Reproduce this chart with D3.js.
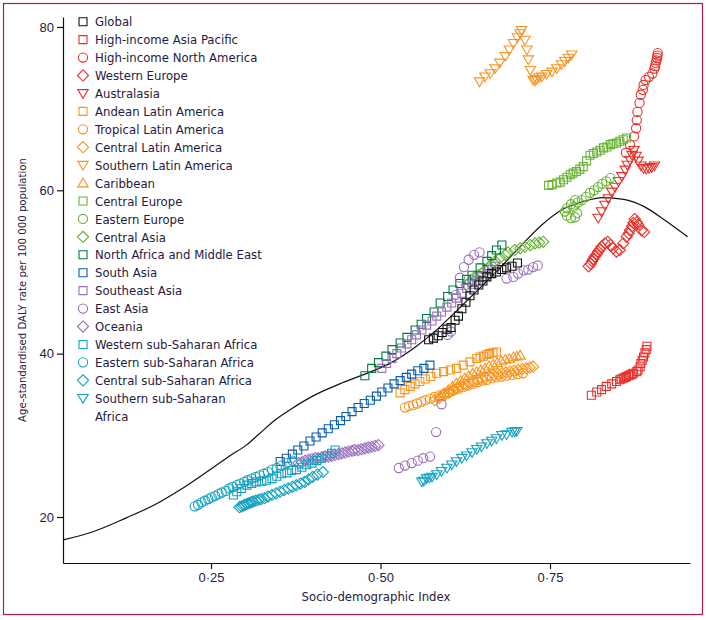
<!DOCTYPE html>
<html><head><meta charset="utf-8">
<script src="https://cdn.jsdelivr.net/npm/d3@7"></script>
<style>
body{margin:0;background:#fff;}
svg{display:block;font-family:'Liberation Sans Narrow','DejaVu Sans Condensed','Roboto Condensed',Roboto,sans-serif;}
</style></head><body>
<svg id="c" width="706" height="620"></svg>
<script>
// ---------- DATA (SDI, age-standardised DALY rate per 100 000) ----------
const xTicks = [0.25, 0.50, 0.75];
const yTicks = [20, 40, 60, 80];

const curveSdi  = [0.032,0.076,0.125,0.167,0.204,0.247,0.278,0.302,0.320,0.345,0.366,0.400,0.443,0.486,0.516,0.553,0.584,0.614,0.645,0.675,0.706,0.737,0.767,0.798,0.828,0.859,0.889,0.920,0.953];
const curveDaly = [17.2,18.2,19.9,21.5,23.3,25.7,27.5,28.8,30.1,31.9,33.1,34.8,36.4,37.8,38.9,40.9,43.0,45.4,47.9,50.4,53.1,55.7,57.6,58.6,59.1,58.9,58.0,56.3,54.3];

const globalPts = [[0.571,41.7],[0.578,41.9],[0.585,42.2],[0.591,42.6],[0.598,43.0],[0.604,43.2],[0.610,44.1],[0.615,44.6],[0.620,45.5],[0.626,46.3],[0.632,47.1],[0.638,47.8],[0.645,48.4],[0.651,48.9],[0.657,49.4],[0.664,49.8],[0.671,50.0],[0.679,50.3],[0.686,50.5],[0.694,50.7],[0.702,51.1]];
const hiAsiaPacific = [[0.811,34.9],[0.819,35.3],[0.826,35.6],[0.833,36.0],[0.841,36.3],[0.848,36.6],[0.853,36.8],[0.855,36.9],[0.858,37.0],[0.861,37.1],[0.863,37.2],[0.866,37.3],[0.868,37.4],[0.871,37.5],[0.873,37.6],[0.878,37.8],[0.880,38.0],[0.883,38.4],[0.884,38.8],[0.886,39.2],[0.888,39.6],[0.890,40.1],[0.892,40.5],[0.893,40.9]];
const hiNorthAmerica = [[0.862,64.6],[0.868,65.6],[0.874,66.6],[0.877,67.6],[0.878,68.6],[0.879,69.6],[0.882,70.7],[0.884,71.7],[0.887,72.3],[0.888,72.9],[0.891,73.5],[0.896,73.9],[0.901,74.3],[0.904,74.9],[0.905,75.2],[0.906,75.6],[0.907,75.9],[0.908,76.2],[0.9085,76.5],[0.909,76.8]];
const westernEurope = [[0.807,50.7],[0.810,51.0],[0.812,51.3],[0.814,51.6],[0.816,51.9],[0.819,52.2],[0.821,52.5],[0.824,52.8],[0.826,53.1],[0.831,53.5],[0.835,53.7],[0.839,53.3],[0.843,52.9],[0.848,52.5],[0.853,52.7],[0.858,53.5],[0.863,54.3],[0.866,54.7],[0.868,55.1],[0.871,55.6],[0.873,56.0],[0.875,56.5],[0.878,56.1],[0.880,55.8],[0.885,55.1],[0.889,54.9]];
const australasia = [[0.821,56.6],[0.826,57.4],[0.831,58.2],[0.836,59.0],[0.841,59.8],[0.846,60.4],[0.851,61.1],[0.856,61.7],[0.861,62.5],[0.864,63.1],[0.868,63.7],[0.871,64.3],[0.874,64.9],[0.877,64.2],[0.880,63.6],[0.884,63.0],[0.888,62.7],[0.892,62.6],[0.896,62.7],[0.900,62.8],[0.904,63.0]];
const andeanLA = [[0.529,35.2],[0.536,35.6],[0.544,36.0],[0.551,36.3],[0.558,36.6],[0.566,36.9],[0.574,37.2],[0.583,37.6],[0.593,37.8],[0.603,38.0],[0.612,38.2],[0.622,38.6],[0.632,39.0],[0.642,39.4],[0.647,39.6],[0.652,39.7],[0.657,39.9],[0.661,40.0],[0.666,40.1],[0.671,40.2]];
const tropicalLA = [[0.536,33.4],[0.542,33.6],[0.548,33.7],[0.554,33.9],[0.560,34.1],[0.566,34.3],[0.573,34.5],[0.580,34.7],[0.587,34.9],[0.594,35.1],[0.601,35.3],[0.608,35.5],[0.615,35.7],[0.622,35.9],[0.629,36.1],[0.636,36.3],[0.643,36.5],[0.650,36.7],[0.657,36.8],[0.664,37.0],[0.671,37.1],[0.678,37.2],[0.686,37.3],[0.694,37.4],[0.702,37.5],[0.710,37.6]];
const centralLA = [[0.580,34.3],[0.587,34.6],[0.594,34.9],[0.601,35.2],[0.607,35.5],[0.613,35.8],[0.619,36.0],[0.625,36.2],[0.631,36.4],[0.637,36.6],[0.643,36.8],[0.649,37.0],[0.655,37.1],[0.661,37.3],[0.667,37.4],[0.673,37.5],[0.679,37.6],[0.685,37.7],[0.691,37.8],[0.697,37.9],[0.703,38.0],[0.709,38.1],[0.715,38.2],[0.720,38.3],[0.725,38.4]];
const southernLA = [[0.646,73.3],[0.654,73.9],[0.662,74.3],[0.669,74.9],[0.676,75.6],[0.684,76.4],[0.690,77.2],[0.696,78.0],[0.702,78.7],[0.706,79.2],[0.708,79.6],[0.713,78.4],[0.716,77.2],[0.718,76.0],[0.721,74.7],[0.725,73.5],[0.728,73.4],[0.730,73.6],[0.734,73.8],[0.738,73.9],[0.745,74.2],[0.753,74.5],[0.760,74.9],[0.767,75.4],[0.772,75.8],[0.777,76.2],[0.782,76.6]];
const caribbean = [[0.588,34.8],[0.594,35.2],[0.600,35.6],[0.606,36.0],[0.612,36.4],[0.618,36.7],[0.624,37.0],[0.630,37.3],[0.636,37.6],[0.642,37.8],[0.648,38.0],[0.654,38.2],[0.660,38.5],[0.666,38.7],[0.672,38.9],[0.678,39.1],[0.684,39.3],[0.690,39.4],[0.696,39.6],[0.701,39.7],[0.706,39.8]];
const centralEurope = [[0.748,60.6],[0.753,60.7],[0.760,60.9],[0.765,61.0],[0.770,61.3],[0.775,61.6],[0.780,61.9],[0.784,62.1],[0.789,62.3],[0.794,62.6],[0.799,62.9],[0.804,63.6],[0.809,64.3],[0.814,64.5],[0.819,64.7],[0.824,64.9],[0.829,65.2],[0.834,65.3],[0.839,65.6],[0.843,65.7],[0.848,65.8],[0.853,66.0],[0.858,66.2],[0.863,66.4]];
const easternEurope = [[0.787,58.8],[0.781,58.3],[0.775,57.8],[0.772,57.4],[0.775,56.9],[0.781,56.6],[0.787,56.7],[0.790,57.2],[0.785,58.0],[0.791,58.5],[0.797,58.8],[0.803,59.2],[0.809,59.7],[0.815,60.0],[0.821,60.4],[0.827,60.8],[0.833,61.1],[0.839,61.5]];
const centralAsia = [[0.627,48.4],[0.632,48.8],[0.639,49.4],[0.644,49.6],[0.649,49.8],[0.654,50.2],[0.659,50.5],[0.663,50.9],[0.669,51.3],[0.676,51.7],[0.684,52.1],[0.688,52.4],[0.698,52.7],[0.706,52.9],[0.713,53.1],[0.721,53.3],[0.728,53.5],[0.734,53.6],[0.740,53.7]];
const northAfricaME = [[0.477,37.3],[0.487,38.2],[0.497,38.9],[0.508,39.7],[0.517,40.5],[0.529,41.3],[0.539,42.0],[0.551,42.9],[0.560,43.6],[0.568,44.3],[0.579,45.1],[0.588,46.2],[0.599,47.0],[0.607,47.8],[0.617,48.6],[0.627,49.1],[0.635,49.6],[0.647,50.5],[0.657,51.3],[0.664,52.0],[0.671,52.7],[0.679,53.3]];
const southAsia = [[0.352,26.8],[0.361,27.2],[0.370,27.7],[0.378,28.2],[0.387,28.7],[0.396,29.3],[0.405,29.8],[0.414,30.3],[0.423,30.8],[0.432,31.3],[0.441,31.8],[0.449,32.3],[0.458,32.9],[0.467,33.4],[0.476,33.9],[0.485,34.3],[0.494,34.8],[0.502,35.3],[0.511,35.8],[0.520,36.3],[0.529,36.7],[0.538,37.1],[0.546,37.5],[0.555,37.9],[0.564,38.2],[0.573,38.6]];
const southeastAsia = [[0.502,38.2],[0.509,38.8],[0.517,39.4],[0.524,40.0],[0.531,40.7],[0.539,41.2],[0.546,41.7],[0.553,42.3],[0.561,42.9],[0.568,43.5],[0.576,44.0],[0.583,44.6],[0.590,45.1],[0.598,45.7],[0.605,46.2],[0.612,46.8],[0.620,47.4],[0.627,48.0],[0.635,48.5],[0.642,49.0],[0.649,49.4],[0.657,49.8],[0.664,50.3],[0.669,50.7]];
const eastAsia = [[0.527,26.0],[0.536,26.3],[0.546,26.6],[0.555,26.9],[0.563,27.2],[0.573,27.4],[0.582,30.4],[0.590,33.8],[0.599,42.3],[0.604,42.7],[0.611,47.2],[0.617,49.3],[0.623,50.6],[0.630,51.5],[0.638,52.1],[0.646,52.4],[0.660,50.2],[0.686,49.2],[0.696,49.4],[0.703,49.8],[0.711,50.2],[0.718,50.3],[0.725,50.6],[0.732,50.8]];
const oceania = [[0.379,26.6],[0.384,26.7],[0.389,26.9],[0.394,27.0],[0.399,27.1],[0.404,27.2],[0.408,27.2],[0.413,27.3],[0.418,27.4],[0.423,27.4],[0.428,27.5],[0.433,27.6],[0.438,27.7],[0.443,27.8],[0.448,27.9],[0.453,28.0],[0.458,28.1],[0.462,28.2],[0.467,28.2],[0.472,28.3],[0.477,28.4],[0.482,28.5],[0.487,28.6],[0.492,28.7],[0.497,28.8]];
const westernSSA = [[0.283,22.7],[0.288,23.1],[0.295,23.5],[0.303,23.9],[0.310,24.1],[0.317,24.3],[0.325,24.4],[0.332,24.5],[0.340,24.7],[0.347,25.0],[0.354,25.3],[0.362,25.4],[0.369,25.7],[0.376,25.8],[0.384,26.1],[0.391,26.4],[0.399,26.6],[0.406,26.9],[0.413,27.2],[0.421,27.5],[0.428,27.8],[0.433,28.2]];
const easternSSA = [[0.226,21.3],[0.231,21.5],[0.236,21.8],[0.241,22.0],[0.246,22.2],[0.251,22.4],[0.256,22.6],[0.261,22.8],[0.266,23.0],[0.272,23.2],[0.277,23.5],[0.282,23.7],[0.288,23.9],[0.293,24.1],[0.299,24.3],[0.304,24.5],[0.310,24.7],[0.316,24.9],[0.322,25.1],[0.328,25.3],[0.334,25.5],[0.340,25.8],[0.347,26.0],[0.354,26.3],[0.362,26.6],[0.370,26.9]];
const centralSSA = [[0.292,21.2],[0.295,21.3],[0.298,21.4],[0.300,21.5],[0.303,21.6],[0.306,21.7],[0.309,21.8],[0.312,21.9],[0.316,22.0],[0.320,22.1],[0.324,22.2],[0.329,22.3],[0.334,22.5],[0.340,22.7],[0.346,22.9],[0.352,23.1],[0.358,23.3],[0.364,23.5],[0.370,23.7],[0.376,23.9],[0.382,24.1],[0.388,24.3],[0.394,24.6],[0.400,24.9],[0.407,25.2],[0.415,25.5]];
const southernSSA = [[0.561,24.3],[0.564,24.4],[0.568,24.7],[0.572,24.8],[0.576,24.9],[0.583,25.2],[0.590,25.6],[0.598,26.0],[0.605,26.4],[0.612,26.8],[0.620,27.2],[0.627,27.5],[0.635,27.9],[0.642,28.3],[0.649,28.6],[0.657,29.0],[0.664,29.3],[0.671,29.6],[0.679,30.0],[0.686,30.1],[0.694,30.4],[0.698,30.45],[0.701,30.5]];

const regionNames = ["Global","High-income Asia Pacific","High-income North America","Western Europe","Australasia","Andean Latin America","Tropical Latin America","Central Latin America","Southern Latin America","Caribbean","Central Europe","Eastern Europe","Central Asia","North Africa and Middle East","South Asia","Southeast Asia","East Asia","Oceania","Western sub-Saharan Africa","Eastern sub-Saharan Africa","Central sub-Saharan Africa","Southern sub-Saharan Africa"];
const regionData = [globalPts,hiAsiaPacific,hiNorthAmerica,westernEurope,australasia,andeanLA,tropicalLA,centralLA,southernLA,caribbean,centralEurope,easternEurope,centralAsia,northAfricaME,southAsia,southeastAsia,eastAsia,oceania,westernSSA,easternSSA,centralSSA,southernSSA];

// ---------- STYLE ----------
const C = {black:"#111", red:"#e8322b", orange:"#f7941d", green:"#67b232", dgreen:"#007a3d", blue:"#0b5cad", purple:"#9a6fbe", cyan:"#13a0c2"};
const regionColor = [C.black,C.red,C.red,C.red,C.red,C.orange,C.orange,C.orange,C.orange,C.orange,C.green,C.green,C.green,C.dgreen,C.blue,C.purple,C.purple,C.purple,C.cyan,C.cyan,C.cyan,C.cyan];
const regionShape = ["square","square","circle","diamond","tdown","square","circle","diamond","tdown","tup","square","circle","diamond","square","square","square","circle","diamond","square","circle","diamond","tdown"];
const shapePath = {
  square:"M-4,-4H4V4H-4Z",
  circle:"M4.6,0A4.6,4.6 0 1,1 -4.6,0A4.6,4.6 0 1,1 4.6,0Z",
  diamond:"M0,-5.6L5.6,0L0,5.6L-5.6,0Z",
  tdown:"M-5.2,-3.8L5.2,-3.8L0,4.9Z",
  tup:"M0,-4.9L5.2,3.8L-5.2,3.8Z"
};
const textColor = "#1f2040";

// ---------- CHART ----------
const svg = d3.select("#c");
const x = d3.scaleLinear().domain([0.0317, 0.9565]).range([63, 690]);
const y = d3.scaleLinear().domain([14.37, 81.22]).range([563, 17]);

svg.append("rect").attr("x",3.5).attr("y",3.5).attr("width",699).attr("height",611)
  .attr("fill","none").attr("stroke","#b01c50").attr("stroke-width",1.2);

const fmt = d => d3.format(".2f")(d).replace(".", "\u00b7");
const gx = svg.append("g").attr("transform","translate(0,563)")
  .call(d3.axisBottom(x).tickValues(xTicks).tickFormat(fmt).tickSize(6).tickSizeOuter(0).tickPadding(4));
const gy = svg.append("g").attr("transform","translate(63,0)")
  .call(d3.axisLeft(y).tickValues(yTicks).tickSize(6).tickSizeOuter(0).tickPadding(3));
[gx,gy].forEach(g=>{
  g.select(".domain").attr("stroke","#111").attr("stroke-width",1.2);
  g.selectAll(".tick line").attr("stroke","#111").attr("stroke-width",1.2);
  g.selectAll(".tick text").attr("fill",textColor).style("font-size","13px").style("font-family","inherit");
});

svg.append("text").attr("x",376).attr("y",601).attr("text-anchor","middle")
  .attr("fill",textColor).style("font-size","13px").text("Socio-demographic Index");
svg.append("text").attr("transform","translate(26,290) rotate(-90)").attr("text-anchor","middle")
  .attr("fill",textColor).style("font-size","11.3px").text("Age-standardised DALY rate per 100 000 population");

// expected-value curve
const line = d3.line().x(d=>x(d[0])).y(d=>y(d[1])).curve(d3.curveMonotoneX);
svg.append("path").datum(d3.zip(curveSdi, curveDaly)).attr("d", line)
  .attr("fill","none").attr("stroke","#111").attr("stroke-width",1.2);

// markers (Global on top)
const order = d3.range(1, regionNames.length).concat([0]);
order.forEach(i=>{
  svg.append("g").selectAll("path").data(regionData[i]).join("path")
    .attr("transform", d=>`translate(${x(d[0])},${y(d[1])})`)
    .attr("d", shapePath[regionShape[i]])
    .attr("fill","none").attr("stroke", regionColor[i]).attr("stroke-width",1.1);
});

// legend
const leg = svg.append("g");
regionNames.forEach((name,i)=>{
  const cy = 21.7 + i*17.93;
  leg.append("path").attr("transform",`translate(83,${cy})`).attr("d",shapePath[regionShape[i]])
    .attr("fill","none").attr("stroke",regionColor[i]).attr("stroke-width",1.1);
  const t = leg.append("text").attr("x",95).attr("y",cy+4.7).attr("fill",textColor).style("font-size","13px");
  if (name === "Southern sub-Saharan Africa") {
    t.append("tspan").attr("x",95).text("Southern sub-Saharan");
    t.append("tspan").attr("x",95).attr("dy",17.93).text("Africa");
  } else t.text(name);
});
</script>
</body></html>
